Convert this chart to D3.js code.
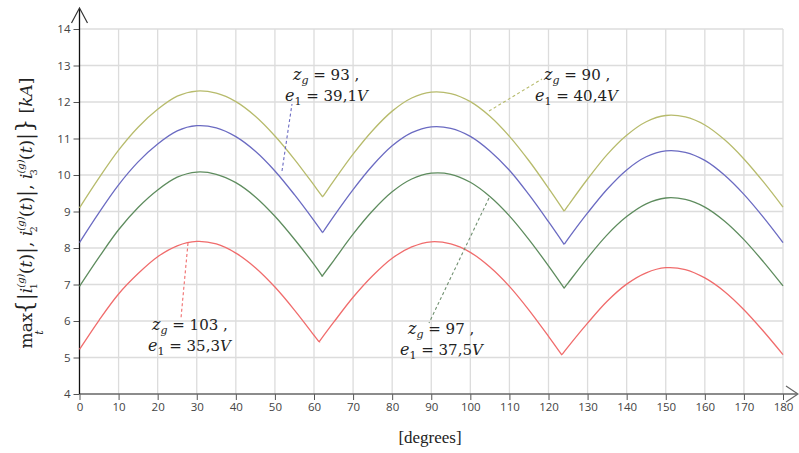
<!DOCTYPE html>
<html><head><meta charset="utf-8">
<script src="https://cdn.jsdelivr.net/npm/d3@7"></script>
<style>body{margin:0;background:#fff}svg{display:block}</style>
</head><body>
<svg id="chart" width="799" height="453"></svg>
<script>
const degrees = d3.range(0, 181, 5);
const xTicks = d3.range(0, 181, 10);
const yTicks = d3.range(4, 15, 1);
const yellowVals = [9.10, 9.92, 10.68, 11.31, 11.80, 12.16, 12.30, 12.24, 12.01, 11.61, 11.07, 10.43, 9.72, 9.83, 10.57, 11.22, 11.75, 12.11, 12.27, 12.23, 12.01, 11.61, 11.06, 10.39, 9.64, 9.16, 9.89, 10.56, 11.09, 11.46, 11.63, 11.59, 11.37, 10.97, 10.44, 9.81, 9.12];
const blueVals = [8.15, 8.97, 9.73, 10.36, 10.85, 11.21, 11.35, 11.29, 11.05, 10.65, 10.11, 9.46, 8.75, 8.86, 9.60, 10.26, 10.80, 11.16, 11.32, 11.28, 11.06, 10.66, 10.13, 9.46, 8.72, 8.25, 8.96, 9.61, 10.14, 10.50, 10.66, 10.62, 10.40, 10.00, 9.47, 8.84, 8.15];
const greenVals = [6.95, 7.75, 8.50, 9.11, 9.59, 9.94, 10.08, 10.02, 9.79, 9.40, 8.87, 8.24, 7.55, 7.65, 8.38, 9.02, 9.54, 9.89, 10.05, 10.02, 9.80, 9.41, 8.88, 8.23, 7.51, 7.04, 7.73, 8.36, 8.86, 9.21, 9.37, 9.33, 9.12, 8.74, 8.23, 7.62, 6.96];
const redVals = [5.22, 6.02, 6.74, 7.30, 7.76, 8.06, 8.18, 8.11, 7.86, 7.46, 6.93, 6.30, 5.61, 5.96, 6.65, 7.24, 7.72, 8.03, 8.17, 8.11, 7.88, 7.48, 6.95, 6.30, 5.58, 5.29, 5.94, 6.54, 7.01, 7.32, 7.46, 7.41, 7.18, 6.81, 6.31, 5.72, 5.08];
const yellowValleys = [[62.2, 9.40], [124.0, 9.01]];
const blueValleys = [[62.2, 8.42], [124.0, 8.10]];
const greenValleys = [[62.1, 7.23], [124.0, 6.90]];
const redValleys = [[61.3, 5.43], [123.4, 5.07]];
const seriesColors = ["#b7bb6c", "#6b6bc2", "#5e8c5e", "#f06c6c"];
const labelZ = ["90", "93", "97", "103"];
const labelE = ["40,4V", "39,1V", "37,5V", "35,3V"];

const svg = d3.select("#chart");
const x = d3.scaleLinear().domain([0, 180]).range([79.5, 783]);
const y = d3.scaleLinear().domain([4, 14]).range([394, 29]);

// grid
const grid = svg.append("g");
grid.selectAll("line.v").data(xTicks.slice(1)).join("line")
  .attr("x1", d => x(d)).attr("x2", d => x(d)).attr("y1", y(14)).attr("y2", y(4))
  .attr("stroke", "#dcdcdc").attr("stroke-width", 1.3);
grid.selectAll("line.h").data(yTicks.slice(1)).join("line")
  .attr("x1", x(0)).attr("x2", x(180)).attr("y1", d => y(d)).attr("y2", d => y(d))
  .attr("stroke", "#dcdcdc").attr("stroke-width", 1.3);

// axes
const xAxis = d3.axisBottom(x).tickValues(xTicks).tickSize(6).tickPadding(3);
const gx = svg.append("g").attr("transform", `translate(0,${y(4)})`).call(xAxis);
gx.select(".domain").remove();
gx.selectAll("line").attr("stroke", "#555");
gx.selectAll("text").attr("font-family", "'Open Sans', sans-serif").attr("font-size", 11.5).attr("fill", "#444");
const yAxis = d3.axisLeft(y).tickValues(yTicks).tickSize(6).tickPadding(3);
const gy = svg.append("g").attr("transform", `translate(${x(0)},0)`).call(yAxis);
gy.select(".domain").remove();
gy.selectAll("line").attr("stroke", "#555");
gy.selectAll("text").attr("font-family", "'Open Sans', sans-serif").attr("font-size", 11.5).attr("fill", "#444");

// axis lines with arrows
svg.append("line").attr("x1", x(0)).attr("x2", 797).attr("y1", y(4)).attr("y2", y(4)).attr("stroke", "#666").attr("stroke-width", 1.5);
svg.append("path").attr("d", `M786,386 L798,394 L786,402`).attr("fill", "none").attr("stroke", "#666").attr("stroke-width", 1.2);
svg.append("line").attr("x1", x(0)).attr("x2", x(0)).attr("y1", 9).attr("y2", y(4)).attr("stroke", "#111").attr("stroke-width", 1.3);
svg.append("path").attr("d", `M${x(0)-8},23 L${x(0)},8 L${x(0)+8},23`).attr("fill", "none").attr("stroke", "#333").attr("stroke-width", 1.2);

// series
const allVals = [yellowVals, blueVals, greenVals, redVals];
const allValleys = [yellowValleys, blueValleys, greenValleys, redValleys];
const line = d3.line().x(d => x(d[0])).y(d => y(d[1])).curve(d3.curveCatmullRom.alpha(0.5));
allVals.forEach((vals, i) => {
  const pts = degrees.map((d, j) => [d, vals[j]]);
  const valleys = allValleys[i];
  const cuts = [0, ...valleys.map(v => v[0]), 180];
  let dStr = "";
  for (let k = 0; k < cuts.length - 1; k++) {
    const a = cuts[k], b = cuts[k + 1];
    let seg = pts.filter(p => p[0] > a && p[0] < b);
    const start = k === 0 ? pts[0] : valleys[k - 1];
    const end = k === cuts.length - 2 ? pts[pts.length - 1] : valleys[k];
    seg = [start, ...seg, end];
    const s = line(seg);
    dStr += k === 0 ? s : s.replace(/^M[^CL]*/, "L" + x(start[0]) + "," + y(start[1]));
  }
  svg.append("path").attr("d", dStr).attr("fill", "none")
    .attr("stroke", seriesColors[i]).attr("stroke-width", 1.3);
});

// leader lines
const leaders = [
  {i: 0, x1: 489, y1: 111, x2: 542, y2: 79},
  {i: 1, x1: 282, y1: 171, x2: 292, y2: 104},
  {i: 2, x1: 489, y1: 198, x2: 429, y2: 323},
  {i: 3, x1: 188, y1: 243, x2: 181, y2: 318}
];
svg.selectAll("line.leader").data(leaders).join("line")
  .attr("x1", d => d.x1).attr("y1", d => d.y1).attr("x2", d => d.x2).attr("y2", d => d.y2)
  .attr("stroke", d => d.i === 2 ? "#6f8f6f" : seriesColors[d.i]).attr("stroke-width", 1.1)
  .attr("stroke-dasharray", "3,2.5");

// annotation labels
const labelPos = [
  {i: 0, zx: 544, zy: 80, ex: 535, ey: 101},
  {i: 1, zx: 293, zy: 80, ex: 285, ey: 101},
  {i: 2, zx: 408, zy: 334, ex: 400, ey: 355},
  {i: 3, zx: 152, zy: 330, ex: 148, ey: 351}
];
const fontM = "'DejaVu Serif', serif";
labelPos.forEach(p => {
  const t1 = svg.append("text").attr("x", p.zx).attr("y", p.zy).attr("font-family", fontM).attr("font-size", 15).attr("fill", "#222");
  t1.append("tspan").attr("font-style", "italic").attr("font-size", 16).text("z");
  t1.append("tspan").attr("font-style", "italic").attr("font-size", 11).attr("dy", 4).text("g");
  t1.append("tspan").attr("dy", -4).text(" = " + labelZ[p.i] + " ,");
  const t2 = svg.append("text").attr("x", p.ex).attr("y", p.ey).attr("font-family", fontM).attr("font-size", 15).attr("fill", "#222");
  t2.append("tspan").attr("font-style", "italic").attr("font-size", 16).text("e");
  t2.append("tspan").attr("font-size", 11).attr("dy", 4).text("1");
  const num = labelE[p.i];
  t2.append("tspan").attr("dy", -4).text(" = " + num.slice(0, -1));
  t2.append("tspan").attr("font-style", "italic").text("V");
});

// x label
svg.append("text").attr("x", 430).attr("y", 443).attr("text-anchor", "middle")
  .attr("font-family", "'Liberation Serif', serif").attr("font-size", 17).attr("fill", "#222").text("[degrees]");

// y label (math)
const yl = svg.append("text").attr("transform", "translate(32,213) rotate(-90)")
  .attr("text-anchor", "middle").attr("font-family", "'DejaVu Serif', serif").attr("font-size", 17).attr("fill", "#222");
yl.append("tspan").text("max");
yl.append("tspan").attr("font-style", "italic").attr("font-size", 11).attr("dx", -22).attr("dy", 11).text("t");
yl.append("tspan").attr("dx", 16).attr("dy", -11).attr("font-size", 22).text("{");
yl.append("tspan").attr("font-size", 21).text("|");
[1, 2, 3].forEach((n, k) => {
  yl.append("tspan").attr("font-style", "italic").text("i");
  yl.append("tspan").attr("font-style", "italic").attr("font-size", 10).attr("dy", -8).text("(g)");
  yl.append("tspan").attr("font-size", 10).attr("dx", -16).attr("dy", 13).text(String(n));
  yl.append("tspan").attr("dx", 9).attr("dy", -5).text("(");
  yl.append("tspan").attr("font-style", "italic").text("t");
  yl.append("tspan").text(")");
  yl.append("tspan").attr("font-size", 21).text("|");
  if (k < 2) yl.append("tspan").text(", ");
  else yl.append("tspan").attr("font-size", 22).text("}");
});
yl.append("tspan").text(" [");
yl.append("tspan").attr("font-style", "italic").text("kA");
yl.append("tspan").text("]");
</script>
</body></html>
